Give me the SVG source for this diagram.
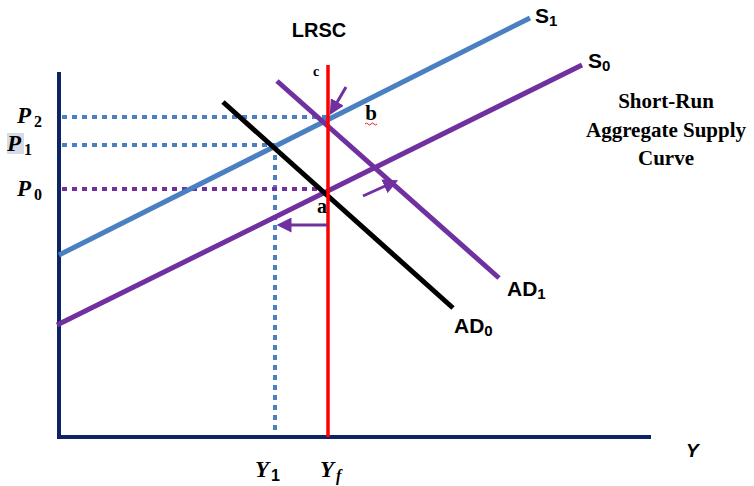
<svg xmlns="http://www.w3.org/2000/svg" width="754" height="486" viewBox="0 0 754 486">
<defs>
<style>
.axis{stroke:#0c2466;stroke-width:4;fill:none}
.s1{stroke:#4a7fc1;stroke-width:5;fill:none;stroke-linecap:butt}
.s0{stroke:#7030a0;stroke-width:5;fill:none}
.ad0{stroke:#000;stroke-width:5;fill:none}
.ad1{stroke:#7030a0;stroke-width:5;fill:none}
.lrsc{stroke:#ff0000;stroke-width:3.5;fill:none}
.dotb{stroke:#4a7fc1;stroke-width:4;stroke-dasharray:5 5;fill:none}
.dotp{stroke:#7030a0;stroke-width:4;stroke-dasharray:5 5;fill:none}
.arr{stroke:#7030a0;stroke-width:3;fill:none}
.sans{font-family:"Liberation Sans",Arial,sans-serif;font-weight:bold;fill:#000}
.serif{font-family:"Liberation Serif","Times New Roman",serif;font-weight:bold;fill:#000}
.pl{font-family:"Liberation Serif","Times New Roman",serif;font-weight:bold;font-style:italic;fill:#000}
</style>
<marker id="ah" viewBox="0 0 10 10" refX="7" refY="5" markerWidth="5" markerHeight="5" orient="auto" markerUnits="strokeWidth">
<path d="M0,0 L10,5 L0,10 z" fill="#7030a0"/>
</marker>
</defs>
<rect width="754" height="486" fill="#fff"/>
<g id="connectors">
<line id="axis-y" class="axis" x1="59" y1="72" x2="59" y2="439"/>
<line id="axis-x" class="axis" x1="57" y1="437" x2="651" y2="437"/>
<line class="dotb" x1="62" y1="117" x2="328" y2="117"/>
<line class="dotb" x1="62" y1="145" x2="275" y2="145"/>
<line class="dotb" x1="275" y1="145" x2="275" y2="435"/>
<line class="dotp" x1="62" y1="189" x2="322" y2="189"/>
<line id="S1" class="s1" x1="59" y1="255" x2="530" y2="18"/>
<line id="S0" class="s0" x1="57" y1="325" x2="582" y2="65"/>
<line id="AD0" class="ad0" x1="223" y1="102" x2="453" y2="308"/>
<line id="AD1" class="ad1" x1="277" y1="81" x2="499" y2="278"/>
<line id="LRSC" class="lrsc" x1="328" y1="65" x2="328" y2="437"/>
<line class="arr" x1="346" y1="87" x2="332" y2="111" marker-end="url(#ah)"/>
<line class="arr" x1="363" y1="196" x2="394" y2="182" marker-end="url(#ah)"/>
<line class="arr" x1="328" y1="225" x2="281" y2="225" marker-end="url(#ah)"/>
</g>
<g id="labels">
<text class="sans" x="319" y="37" font-size="20" text-anchor="middle">LRSC</text>
<text class="serif" x="316" y="76" font-size="14" text-anchor="middle">c</text>
<text class="serif" x="371" y="120" font-size="21" text-anchor="middle">b</text>
<path d="M365,124 q1.5,-2 3,0 t3,0 t3,0 t3,0" stroke="#e02020" stroke-width="1" fill="none"/>
<text class="serif" x="322" y="213" font-size="20" text-anchor="middle">a</text>
<text class="sans" x="535" y="23" font-size="21">S<tspan font-size="15" dy="3">1</tspan></text>
<text class="sans" x="588" y="68" font-size="21">S<tspan font-size="15" dy="3">0</tspan></text>
<text class="sans" x="507" y="296" font-size="21">AD<tspan font-size="15" dy="3">1</tspan></text>
<text class="sans" x="454" y="333" font-size="21">AD<tspan font-size="15" dy="3">0</tspan></text>
<text class="pl" x="17" y="123" font-size="23">P<tspan font-size="16" dx="3" dy="4" font-style="normal">2</tspan></text>
<rect x="7" y="133" width="17" height="21" fill="#d6dce5"/>
<text class="pl" x="7" y="151" font-size="23">P<tspan font-size="16" dx="3" dy="4" font-style="normal">1</tspan></text>
<text class="pl" x="17" y="196" font-size="23">P<tspan font-size="16" dx="3" dy="4" font-style="normal">0</tspan></text>
<text class="pl" x="255" y="477" font-size="23">Y<tspan font-size="16" dx="2" dy="4" font-style="normal" font-family="Liberation Sans">1</tspan></text>
<text class="pl" x="320" y="477" font-size="23">Y<tspan font-size="16" dx="2" dy="4">f</tspan></text>
<text class="sans" x="686" y="457" font-size="19" font-style="italic">Y</text>
<text class="serif" x="666" y="108" font-size="21" text-anchor="middle">Short-Run</text>
<text class="serif" x="666" y="137" font-size="21" text-anchor="middle">Aggregate Supply</text>
<text class="serif" x="666" y="165" font-size="21" text-anchor="middle">Curve</text>
</g>
</svg>
